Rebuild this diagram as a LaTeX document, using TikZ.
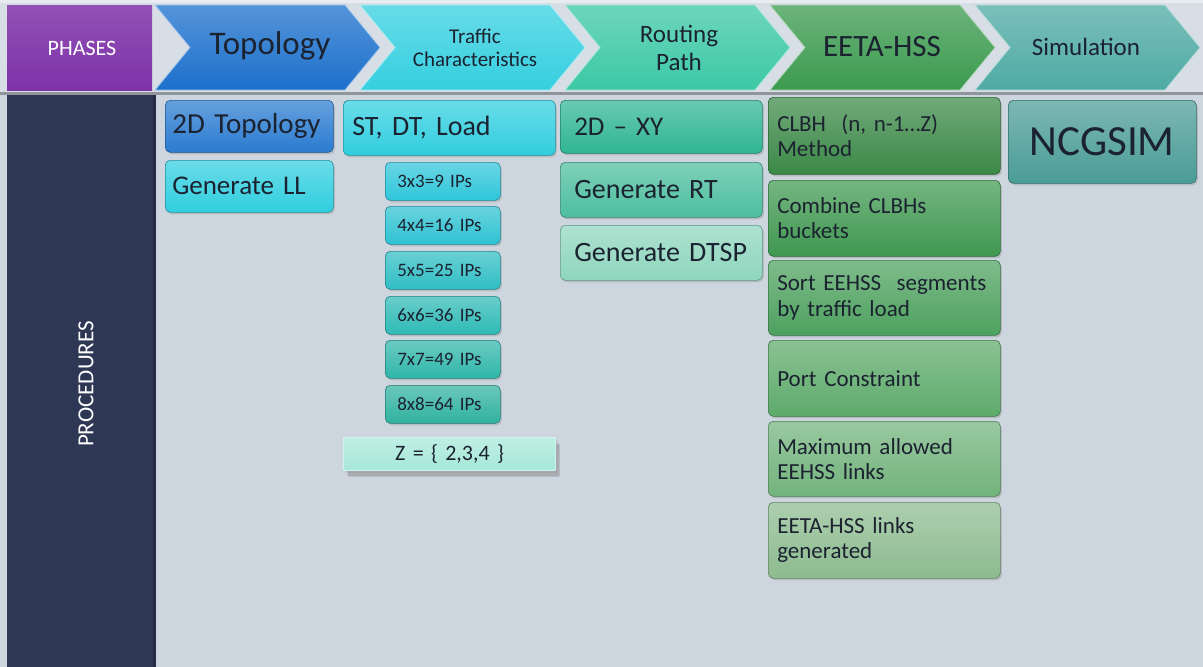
\documentclass[tikz,border=0pt]{standalone}
\usepackage{fontspec}
\setmainfont{Carlito}
\usetikzlibrary{shadows}
\definecolor{bgc}{HTML}{CDD5DE}
\definecolor{hdrc}{HTML}{D8DEE5}
\definecolor{navy}{HTML}{2E3855}
\definecolor{purp}{HTML}{7E32A8}
\definecolor{txt}{HTML}{1B2230}
\definecolor{chA}{HTML}{1C70CC}
\definecolor{chB}{HTML}{35CFE0}
\definecolor{chC}{HTML}{3CC8A6}
\definecolor{chD}{HTML}{3B9A4E}
\definecolor{chE}{HTML}{4FAAA4}
\definecolor{bA}{HTML}{2A7BD0}
\definecolor{bB}{HTML}{30CEDF}
\definecolor{ipA}{HTML}{2FC6DA}
\definecolor{ipB}{HTML}{2FC2D2}
\definecolor{ipC}{HTML}{2FBEC4}
\definecolor{ipD}{HTML}{2FBAB6}
\definecolor{ipE}{HTML}{30B6AA}
\definecolor{ipF}{HTML}{30B2A0}
\definecolor{zc}{HTML}{A6E8D8}
\definecolor{rA}{HTML}{2FB594}
\definecolor{rB}{HTML}{4DBE9E}
\definecolor{rC}{HTML}{8ED6BE}
\definecolor{gA}{HTML}{3A8846}
\definecolor{gB}{HTML}{3F9850}
\definecolor{gC}{HTML}{4DA15E}
\definecolor{gD}{HTML}{5DAA6A}
\definecolor{gE}{HTML}{72B37C}
\definecolor{gF}{HTML}{8DBB8F}
\definecolor{sA}{HTML}{4A9C96}
\tikzset{
  chev/.style={top color=#1!75!white, bottom color=#1, draw=white!60!#1, line width=0.8pt},
  pbox/.style={rounded corners=5pt, draw=#1!70!black, line width=0.6pt,
    top color=#1!72!white, bottom color=#1,
    drop shadow={opacity=0.3, shadow xshift=1.5pt, shadow yshift=-2pt},
    anchor=north west, inner xsep=8pt, inner ysep=2pt, text=txt, align=left},
  fs/.style={font={\pgfmathsetmacro\myls{#1*1.1}\fontsize{#1}{\myls}\selectfont\spaceskip=0.15em plus 0.05em\relax}},
}
\begin{document}
\begin{tikzpicture}[x=1pt,y=-1pt]
\useasboundingbox (0,0) rectangle (1203,667);
\fill[bgc] (0,0) rectangle (1203,667);
\fill[hdrc] (0,0) rectangle (1203,93);
\fill[white!40!hdrc] (0,0) rectangle (1203,3);
\fill[black!30!bgc] (0,92) rectangle (1203,95);
% phases
\fill[top color=purp!85!white, bottom color=purp] (7,5) rectangle (152,90);
\node[text=white, fs=22] (phases) at (82,48) {PHASES};
% procedures column
\fill[navy] (7,95) rectangle (155,667);
\fill[navy!80!black] (153,95) rectangle (156,667);
\node[rotate=90, text=white, fs=23] (proc) at (86,384) {PROCEDURES};
% chevrons
\path[chev=chA] (155,5)--(345,5)--(380,47.5)--(345,90)--(155,90)--(190,47.5)--cycle;
\path[chev=chB] (360,5)--(550,5)--(585,47.5)--(550,90)--(360,90)--(395,47.5)--cycle;
\path[chev=chC] (565,5)--(755,5)--(790,47.5)--(755,90)--(565,90)--(600,47.5)--cycle;
\path[chev=chD] (770,5)--(960,5)--(995,47.5)--(960,90)--(770,90)--(805,47.5)--cycle;
\path[chev=chE] (975,5)--(1165,5)--(1200,47.5)--(1165,90)--(975,90)--(1010,47.5)--cycle;
\node[text=txt, fs=33] (topo) at (270,46) {Topology};
\node[text=txt, fs=21, align=center] (traf) at (475,48) {Traffic\\Characteristics};
\node[text=txt, fs=25, align=center] (rout) at (679,48) {Routing\\Path};
\node[text=txt, fs=31, align=center] (eeta) at (882,47) {EETA-HSS};
\node[text=txt, fs=25, align=center] (simu) at (1086,47) {Simulation};
% column 1
\node[pbox=bA, minimum width=168, minimum height=52, text width=154, inner xsep=7pt, fs=29] (t2d) at (165,100) {2D Topology};
\node[pbox=bB, minimum width=168, minimum height=52, text width=154, inner xsep=7pt, fs=27] (gll) at (165,160) {Generate LL};
% column 2
\node[pbox=bB, minimum width=212, minimum height=55, text width=194, inner xsep=9pt, fs=28] (stdt) at (343,100) {ST, DT, Load};
\node[pbox=ipA, minimum width=115, minimum height=38, text width=101, inner xsep=7pt, fs=19] (ip3) at (385,162) {\hspace{5pt}3x3=9 IPs};
\node[pbox=ipB, minimum width=115, minimum height=38, text width=101, inner xsep=7pt, fs=19] (ip4) at (385,206) {\hspace{5pt}4x4=16 IPs};
\node[pbox=ipC, minimum width=115, minimum height=38, text width=101, inner xsep=7pt, fs=19] (ip5) at (385,251) {\hspace{5pt}5x5=25 IPs};
\node[pbox=ipD, minimum width=115, minimum height=38, text width=101, inner xsep=7pt, fs=19] (ip6) at (385,296) {\hspace{5pt}6x6=36 IPs};
\node[pbox=ipE, minimum width=115, minimum height=38, text width=101, inner xsep=7pt, fs=19] (ip7) at (385,340) {\hspace{5pt}7x7=49 IPs};
\node[pbox=ipF, minimum width=115, minimum height=38, text width=101, inner xsep=7pt, fs=19] (ip8) at (385,385) {\hspace{5pt}8x8=64 IPs};
\node[pbox=zc, rounded corners=1pt, draw=white!50!zc, line width=1.2pt, minimum width=212, minimum height=33, text width=196, align=center, fs=22,
  drop shadow={opacity=0.45, shadow xshift=4pt, shadow yshift=-6pt}] (zset) at (343,437) {Z = \{ 2,3,4 \}};
% column 3
\node[pbox=rA, minimum width=202, minimum height=53, text width=186, inner xsep=8pt, fs=27] (xy) at (560,100) {\hspace{6pt}2D -- XY};
\node[pbox=rB, minimum width=202, minimum height=55, text width=186, inner xsep=8pt, fs=28] (grt) at (560,162) {\hspace{6pt}Generate RT};
\node[pbox=rC, minimum width=202, minimum height=55, text width=186, inner xsep=8pt, fs=28] (gdt) at (560,225) {\hspace{6pt}Generate DTSP};
% column 4
\node[pbox=gA, minimum width=232, minimum height=77, text width=214, inner xsep=9pt, fs=23] (clbh) at (768,97) {CLBH~~(n, n-1\ldots Z)\\Method};
\node[pbox=gB, minimum width=232, minimum height=76, text width=214, inner xsep=9pt, fs=23] (comb) at (768,180) {Combine CLBHs\\buckets};
\node[pbox=gC, minimum width=232, minimum height=75, text width=214, inner xsep=9pt, fs=23] (sort) at (768,260) {Sort EEHSS~~segments\\by traffic load};
\node[pbox=gD, minimum width=232, minimum height=76, text width=214, inner xsep=9pt, fs=23] (port) at (768,340) {Port Constraint};
\node[pbox=gE, minimum width=232, minimum height=75, text width=214, inner xsep=9pt, fs=23] (maxl) at (768,421) {Maximum allowed\\EEHSS links};
\node[pbox=gF, minimum width=232, minimum height=76, text width=214, inner xsep=9pt, fs=23] (gen) at (768,502) {EETA-HSS links\\generated};
% column 5
\node[pbox=sA, minimum width=188, minimum height=83, text width=172, align=center, fs=43] (ncg) at (1008,100) {NCGSIM};
\end{tikzpicture}
\end{document}
